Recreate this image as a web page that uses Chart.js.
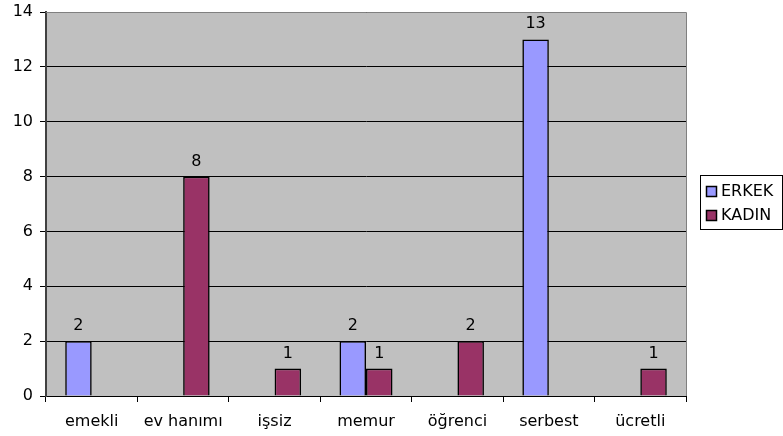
<!DOCTYPE html>
<html><head><meta charset="utf-8">
<script src="https://cdn.jsdelivr.net/npm/chart.js@4/dist/chart.umd.min.js"></script>
<style>html,body{margin:0;padding:0;background:#fff}#w{width:783px;height:436px}</style>
</head><body><div id="w"><canvas id="c"></canvas></div>
<script>
const categories = ["emekli","ev hanımı","işsiz","memur","öğrenci","serbest","ücretli"];
const erkek = [2,null,null,2,null,13,null];
const kadin = [null,8,1,1,2,null,1];
const yTicks = [0,2,4,6,8,10,12,14];
const FONT = "'DejaVu Sans', Verdana, sans-serif";
const FS = 16;

const bgPlugin = {
  id:'bg',
  beforeDraw(chart){
    const {ctx, chartArea:a} = chart;
    ctx.save(); ctx.fillStyle='#C0C0C0';
    ctx.fillRect(a.left,a.top,a.right-a.left,a.bottom-a.top); ctx.restore();
  },
  afterDatasetsDraw(chart){
    const {ctx, chartArea:a} = chart;
    ctx.save();
    ctx.strokeStyle='#808080'; ctx.lineWidth=1;
    ctx.beginPath();
    ctx.moveTo(a.left, a.top+0.5); ctx.lineTo(a.right+0.5, a.top+0.5); ctx.lineTo(a.right+0.5, a.bottom);
    ctx.stroke();
    // data labels
    ctx.fillStyle='#000'; ctx.font=FS+'px '+FONT; ctx.textAlign='center'; ctx.textBaseline='alphabetic';
    chart.data.datasets.forEach((ds,i)=>{
      chart.getDatasetMeta(i).data.forEach((el,j)=>{
        const v = ds.data[j];
        if(v===null||v===undefined) return;
        ctx.fillText(String(v), el.x, el.y-11);
      });
    });
    // legend
    const lx=700, ly=175, lw=82, lh=54;
    ctx.fillStyle='#fff'; ctx.fillRect(lx,ly,lw,lh);
    ctx.strokeStyle='#000'; ctx.lineWidth=1; ctx.strokeRect(lx+0.5,ly+0.5,lw,lh);
    chart.data.datasets.forEach((ds,i)=>{
      const y = ly+16+i*24;
      ctx.fillStyle=ds.backgroundColor; ctx.fillRect(lx+6.5,y-4.5,10,10);
      ctx.strokeStyle='#000'; ctx.lineWidth=1.5; ctx.strokeRect(lx+6.5,y-4.5,10,10);
      ctx.fillStyle='#000'; ctx.textAlign='left'; ctx.textBaseline='middle';
      ctx.fillText(ds.label, lx+21, y+1);
    });
    ctx.restore();
  }
};

new Chart(document.getElementById('c'), {
  type:'bar',
  data:{
    labels:categories,
    datasets:[
      {label:'ERKEK', data:erkek, backgroundColor:'#9999FF', borderColor:'#000', borderWidth:1.6},
      {label:'KADIN', data:kadin, backgroundColor:'#993366', borderColor:'#000', borderWidth:1.6}
    ]
  },
  options:{
    responsive:true, maintainAspectRatio:false, animation:false,
    layout:{padding:{left:0,right:97,top:12,bottom:0}},
    datasets:{bar:{categoryPercentage:0.58, barPercentage:1.0}},
    plugins:{legend:{display:false}, tooltip:{enabled:false}},
    scales:{
      x:{
        afterFit(s){ s.height = 40; },
        grid:{offset:true, drawOnChartArea:false, drawTicks:true, tickLength:6, color:'#000'},
        border:{color:'#000', width:1},
        ticks:{color:'#000', font:{family:FONT, size:FS}, padding:10, maxRotation:0}
      },
      y:{
        min:0, max:14,
        afterFit(s){ s.width = 46; s.paddingTop = 0; s.paddingBottom = 0; },
        afterBuildTicks(s){ s.ticks = yTicks.map(v=>({value:v})); },
        grid:{color:'#000', drawTicks:true, tickLength:6, lineWidth:1},
        border:{color:'#404040', width:2},
        ticks:{color:'#000', font:{family:FONT, size:FS, lineHeight:0.8}, padding:7}
      }
    }
  },
  plugins:[bgPlugin]
});
</script></body></html>
